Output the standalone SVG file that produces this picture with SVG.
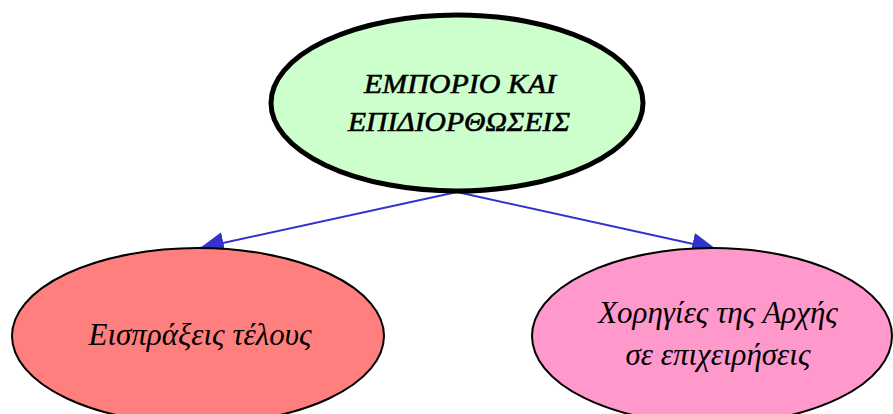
<svg xmlns="http://www.w3.org/2000/svg" width="893" height="414" viewBox="0 0 893 414">
<style>
.lbl{font-family:"Liberation Serif","DejaVu Serif",serif;font-style:italic;fill:#000;text-anchor:middle}
.edge{stroke:#3333cc;stroke-width:2;fill:none}
</style>
<defs>
<marker id="ah" markerUnits="userSpaceOnUse" markerWidth="26" markerHeight="22" refX="24" refY="11" orient="auto">
<path d="M0,0 L24,11 L0,22 Z" fill="#3333cc"/>
</marker>
</defs>
<rect width="893" height="414" fill="#fff"/>
<g id="connectors">
<line class="edge" x1="457" y1="192" x2="200" y2="248" marker-end="url(#ah)"/>
<line class="edge" x1="457" y1="192" x2="716" y2="249" marker-end="url(#ah)"/>
</g>
<g id="node-left">
<ellipse cx="198" cy="336" rx="186" ry="88" fill="#ff7f7f" stroke="#000" stroke-width="2"/>
<text class="lbl" x="200" y="345" font-size="31">Εισπράξεις τέλους</text>
</g>
<g id="node-right">
<ellipse cx="712" cy="336" rx="180" ry="88" fill="#ff99cc" stroke="#000" stroke-width="2"/>
<text class="lbl" x="718" y="323" font-size="31">Χορηγίες της Αρχής</text>
<text class="lbl" x="718" y="365" font-size="31">σε επιχειρήσεις</text>
</g>
<g id="node-top">
<ellipse cx="457" cy="103" rx="186" ry="88" fill="#ccffcc" stroke="#000" stroke-width="5"/>
<text class="lbl" x="460" y="93" font-size="28" stroke="#000" stroke-width="0.6" textLength="192" lengthAdjust="spacingAndGlyphs">ΕΜΠΟΡΙΟ ΚΑΙ</text>
<text class="lbl" x="459" y="131" font-size="28" stroke="#000" stroke-width="0.6" textLength="222" lengthAdjust="spacingAndGlyphs">ΕΠΙΔΙΟΡΘΩΣΕΙΣ</text>
</g>
</svg>
